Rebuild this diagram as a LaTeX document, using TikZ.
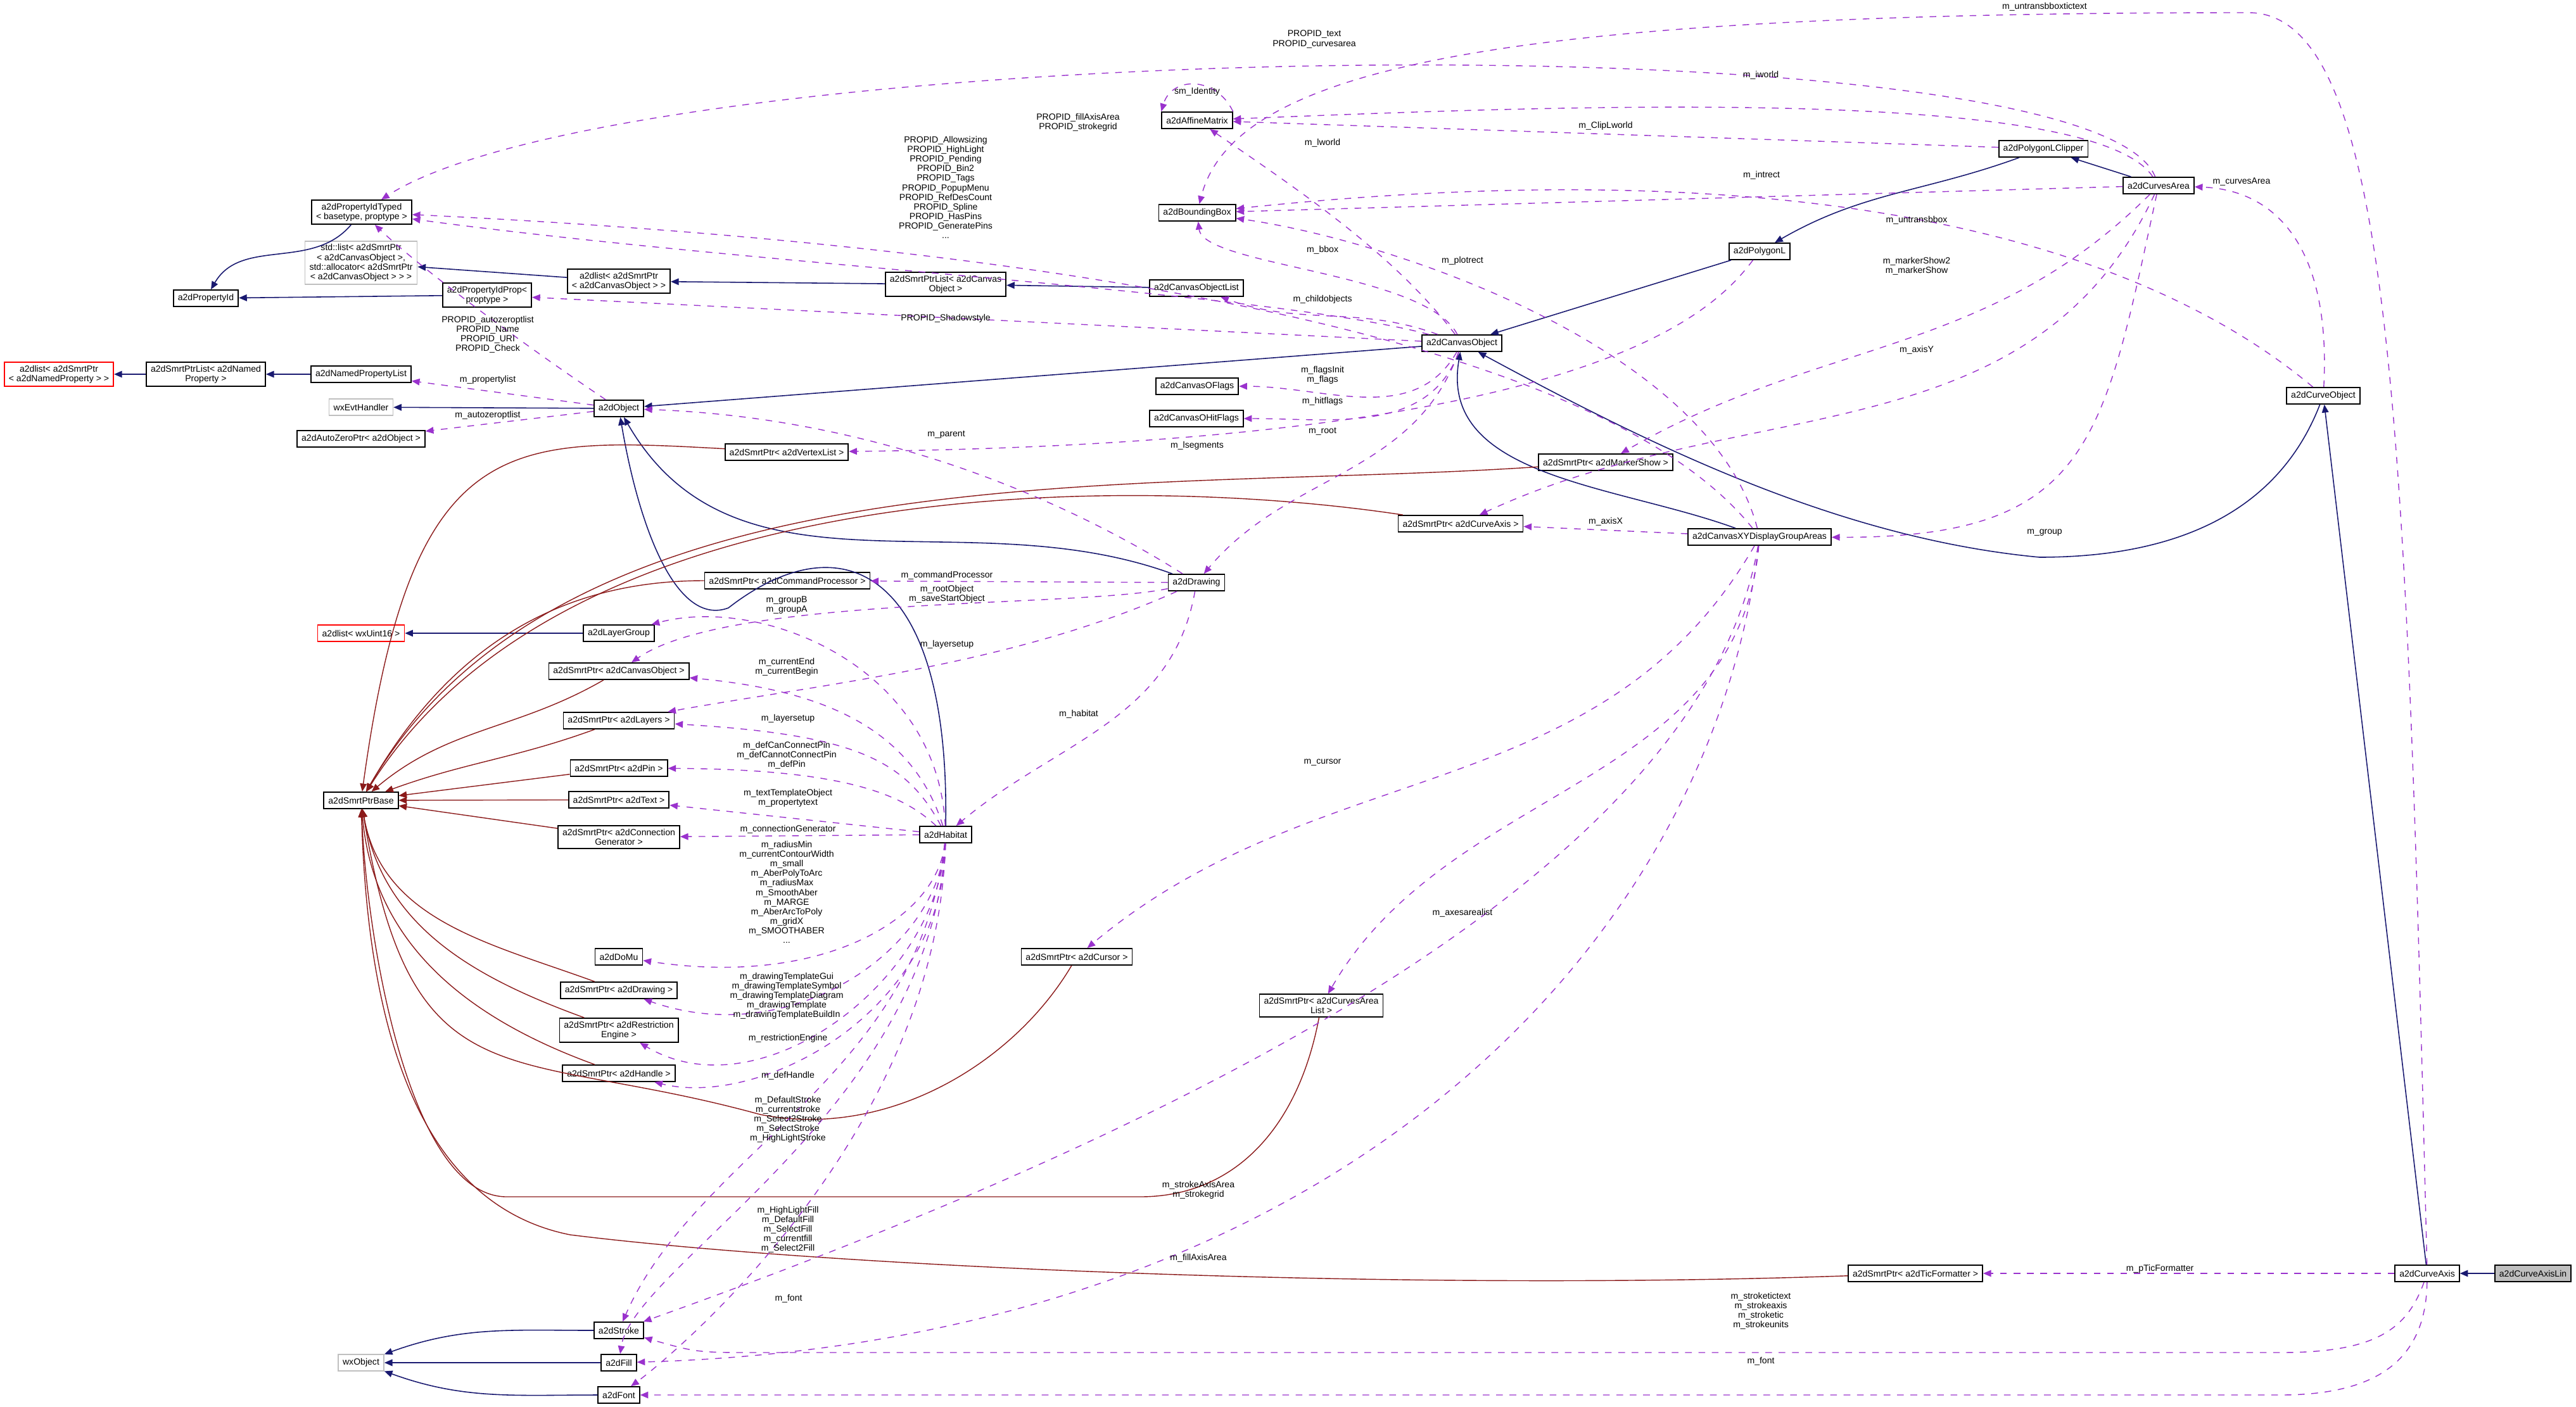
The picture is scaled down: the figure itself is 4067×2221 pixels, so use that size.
\documentclass[tikz,border=0pt]{standalone}
\usepackage{fontspec}
\setmainfont{Liberation Sans}
\usetikzlibrary{arrows.meta}
\definecolor{inhcol}{RGB}{25,25,112}
\definecolor{tplcol}{RGB}{139,26,26}
\definecolor{usecol}{RGB}{154,50,205}
\begin{document}
\begin{tikzpicture}[x=0.01cm, y=-0.01cm, align=center,
    font=\fontsize{4}{4.3}\selectfont,
    cls/.style={draw=black, line width=0.5pt, fill=white, inner xsep=2pt, inner ysep=1.4pt, minimum height=7.4pt},
    ext/.style={cls, draw=black!25},
    tpl/.style={cls, draw=red},
    lbl/.style={inner sep=0.5pt},
    inh/.style={draw=inhcol, line width=0.45pt, -{Triangle[length=3.6pt,width=3pt]}},
    tmp/.style={draw=tplcol, line width=0.4pt, -{Triangle[length=3.6pt,width=3pt]}},
    use/.style={draw=usecol, line width=0.4pt, dashed, -{Triangle[length=3.6pt,width=3pt]}}]
    \useasboundingbox (0,0) rectangle (4067,2221);

    % left column
    \node(typed)  [cls] at (571,335)  {a2dPropertyIdTyped\\< basetype, proptype >};
    \node(stdl)   [ext] at (570,415)  {std::list< a2dSmrtPtr\\< a2dCanvasObject >,\\ std::allocator< a2dSmrtPtr\\< a2dCanvasObject > > >};
    \node(pid)    [cls] at (325,471)  {a2dPropertyId};
    \node(pprop)  [cls] at (769,466)  {a2dPropertyIdProp<\\ proptype >};
    \node(alist)  [cls] at (977,444)  {a2dlist< a2dSmrtPtr\\< a2dCanvasObject > >};
    \node(splist) [cls] at (1493,449) {a2dSmrtPtrList< a2dCanvas\\ Object >};
    \node(nlist)  [tpl] at (93,591)   {a2dlist< a2dSmrtPtr\\< a2dNamedProperty > >};
    \node(snlist) [cls] at (325,591)  {a2dSmrtPtrList< a2dNamed\\ Property >};
    \node(nplist) [cls] at (570,591)  {a2dNamedPropertyList};
    \node(evt)    [ext] at (570,643)  {wxEvtHandler};
    \node(obj)    [cls] at (977,645)  {a2dObject};
    \node(azp)    [cls] at (570,693)  {a2dAutoZeroPtr< a2dObject >};
    \node(vtx)    [cls] at (1242,714) {a2dSmrtPtr< a2dVertexList >};
    \node(cmd)    [cls] at (1243,917) {a2dSmrtPtr< a2dCommandProcessor >};
    \node(ulist)  [tpl] at (570,1000) {a2dlist< wxUint16 >};
    \node(lgrp)   [cls] at (977,1000) {a2dLayerGroup};
    \node(pco)    [cls] at (977,1060) {a2dSmrtPtr< a2dCanvasObject >};
    \node(lay)    [cls] at (977,1138) {a2dSmrtPtr< a2dLayers >};
    \node(pin)    [cls] at (977,1213) {a2dSmrtPtr< a2dPin >};
    \node(base)   [cls] at (570,1264) {a2dSmrtPtrBase};
    \node(txt)    [cls] at (977,1263) {a2dSmrtPtr< a2dText >};
    \node(con)    [cls] at (977,1322) {a2dSmrtPtr< a2dConnection\\ Generator >};
    \node(domu)   [cls] at (977,1511) {a2dDoMu};
    \node(pdrw)   [cls] at (977,1564) {a2dSmrtPtr< a2dDrawing >};
    \node(res)    [cls] at (977,1627) {a2dSmrtPtr< a2dRestriction\\ Engine >};
    \node(hdl)    [cls] at (977,1695) {a2dSmrtPtr< a2dHandle >};
    \node(strk)   [cls] at (977,2101) {a2dStroke};
    \node(wxo)    [ext] at (570,2152) {wxObject};
    \node(fill)   [cls] at (977,2152) {a2dFill};
    \node(font)   [cls] at (977,2203) {a2dFont};
    % middle
    \node(aff)    [cls] at (1890,190) {a2dAffineMatrix};
    \node(bbox)   [cls] at (1890,336) {a2dBoundingBox};
    \node(colist) [cls] at (1889,455) {a2dCanvasObjectList};
    \node(oflags) [cls] at (1890,610) {a2dCanvasOFlags};
    \node(hflags) [cls] at (1889,661) {a2dCanvasOHitFlags};
    \node(drw)    [cls] at (1889,920) {a2dDrawing};
    \node(hab)    [cls] at (1493,1318) {a2dHabitat};
    \node(cur)    [cls] at (1700,1511) {a2dSmrtPtr< a2dCursor >};
    \node(calist) [cls] at (2086,1588) {a2dSmrtPtr< a2dCurvesArea\\ List >};
    % right
    \node(cobj)   [cls] at (2308,542) {a2dCanvasObject};
    \node(mrk)    [cls] at (2535,730) {a2dSmrtPtr< a2dMarkerShow >};
    \node(pax)    [cls] at (2306,827) {a2dSmrtPtr< a2dCurveAxis >};
    \node(xy)     [cls] at (2778,848) {a2dCanvasXYDisplayGroupAreas};
    \node(poly)   [cls] at (2778,397) {a2dPolygonL};
    \node(clip)   [cls] at (3226,235) {a2dPolygonLClipper};
    \node(area)   [cls] at (3408,293) {a2dCurvesArea};
    \node(cobj2)  [cls] at (3668,625) {a2dCurveObject};
    \node(tic)    [cls] at (3024,2011) {a2dSmrtPtr< a2dTicFormatter >};
    \node(axis)   [cls] at (3832,2011) {a2dCurveAxis};
    \node(lin)    [cls, fill=black!25] at (3999,2011) {a2dCurveAxisLin};

    % inheritance
    \draw [inh] (typed) to [out=-130,in=60] (pid);
    \draw [inh] (pprop) -- (pid);
    \draw [inh] (alist) -- (stdl);
    \draw [inh] (splist) -- (alist);
    \draw [inh] (colist) -- (splist);
    \draw [inh] (snlist) -- (nlist);
    \draw [inh] (nplist) -- (snlist);
    \draw [inh] (obj) -- (evt);
    \draw [inh] (cobj) -- (obj);
    \draw [inh] (drw) to [out=160,in=-60] (obj);
    \draw [inh] (hab.north) .. controls (1500,900) and (1330,820) .. (1150,960) .. controls (1070,990) and (1010,840) .. (obj);
    \draw [inh] (lgrp) -- (ulist);
    \draw [inh] (poly) -- (cobj);
    \draw [inh] (clip) to [out=200,in=30] (poly);
    \draw [inh] (area) -- (clip);
    \draw [inh] (xy) to [out=160,in=-100] (cobj);
    \draw [inh] (cobj2) .. controls (3600,800) and (3450,880) .. (3220,880) .. controls (2900,850) and (2600,700) .. (cobj);
    \draw [inh] (axis) -- (cobj2);
    \draw [inh] (lin) -- (axis);
    \draw [inh] (strk) to [out=180,in=20] (wxo);
    \draw [inh] (fill) -- (wxo);
    \draw [inh] (font) to [out=180,in=-20] (wxo);

    % template instances
    \draw [tmp] (vtx) .. controls (800,690) and (650,680) .. (base);
    \draw [tmp] (mrk) .. controls (1800,780) and (900,700) .. (base);
    \draw [tmp] (pax) .. controls (1800,750) and (900,740) .. (base);
    \draw [tmp] (cmd) to [out=180,in=60] (base);
    \draw [tmp] (pco) to [out=-150,in=40] (base);
    \draw [tmp] (lay) to [out=-160,in=20] (base);
    \draw [tmp] (pin) -- (base);
    \draw [tmp] (txt) -- (base);
    \draw [tmp] (con) -- (base);
    \draw [tmp] (pdrw) to [out=160,in=-80] (base);
    \draw [tmp] (res) to [out=160,in=-80] (base);
    \draw [tmp] (hdl) to [out=160,in=-85] (base);
    \draw [tmp] (cur) .. controls (1600,1680) and (1400,1800) .. (1200,1760) .. controls (800,1650) and (650,1750) .. (base);
    \draw [tmp] (calist) .. controls (2050,1780) and (1950,1890) .. (1800,1890) -- (800,1890) .. controls (650,1890) and (580,1500) .. (base);
    \draw [tmp] (tic) .. controls (2200,2040) and (1300,2000) .. (900,1950) .. controls (650,1900) and (580,1600) .. (base);

    % usage
    \draw [use] (obj) .. controls (820,540) and (660,420) .. (typed);
    \draw [use] (obj) -- (nplist);
    \draw [use] (obj) -- (azp);
    \draw [use] (cobj) .. controls (2000,460) and (1200,420) .. (typed);
    \draw [use] (cobj) -- (pprop);
    \draw [use] (cobj) .. controls (2250,430) and (1900,420) .. (bbox);
    \draw [use] (cobj) to [out=160,in=-20] (colist);
    \draw [use] (cobj) to [out=-120,in=0] (oflags);
    \draw [use] (cobj) to [out=-110,in=0] (hflags);
    \draw [use] (cobj) to [out=-110,in=50] (drw);
    \draw [use] (cobj) .. controls (2200,400) and (2050,300) .. (aff);
    \draw [use] (poly) .. controls (2700,500) and (2500,700) .. (vtx);
    \draw [use] (drw) .. controls (1700,800) and (1400,660) .. (obj);
    \draw [use] (drw) -- (cmd);
    \draw [use] (drw) .. controls (1700,960) and (1150,940) .. (pco);
    \draw [use] (drw) .. controls (1600,1050) and (1300,1080) .. (lay);
    \draw [use] (drw) to [out=-100,in=40] (hab);
    \draw [use] (hab) .. controls (1480,1050) and (1200,940) .. (lgrp);
    \draw [use] (hab) .. controls (1440,1150) and (1300,1090) .. (pco);
    \draw [use] (hab) .. controls (1430,1200) and (1350,1160) .. (lay);
    \draw [use] (hab) .. controls (1430,1260) and (1350,1215) .. (pin);
    \draw [use] (hab) -- (txt);
    \draw [use] (hab) -- (con);
    \draw [use] (hab) .. controls (1480,1450) and (1300,1560) .. (domu);
    \draw [use] (hab) .. controls (1480,1500) and (1250,1660) .. (pdrw);
    \draw [use] (hab) .. controls (1480,1550) and (1200,1760) .. (res);
    \draw [use] (hab) .. controls (1490,1600) and (1200,1750) .. (hdl);
    \draw [use] (hab) .. controls (1450,1700) and (1100,1820) .. (strk);
    \draw [use] (hab) .. controls (1470,1750) and (1000,2000) .. (fill);
    \draw [use] (hab) .. controls (1480,1800) and (1050,2150) .. (font);
    \draw [use] (xy) .. controls (2500,500) and (1500,380) .. (typed);
    \draw [use] (xy) .. controls (2700,550) and (2200,380) .. (bbox);
    \draw [use] (xy) -- (pax);
    \draw [use] (xy) to [out=-120,in=40] (cur);
    \draw [use] (xy) to [out=-95,in=60] (calist);
    \draw [use] (xy) .. controls (2700,1300) and (2100,1700) .. (strk);
    \draw [use] (xy) .. controls (2700,1500) and (2100,2120) .. (fill);
    \draw [use] (aff.north east) .. controls (1920,120) and (1850,120) .. (aff.north west);
    \draw [use] (area) .. controls (3300,20) and (1000,60) .. (typed);
    \draw [use] (area) .. controls (3300,130) and (2400,170) .. (aff);
    \draw [use] (clip) -- (aff);
    \draw [use] (area) -- (bbox);
    \draw [use] (cobj2) .. controls (3400,400) and (2900,230) .. (bbox);
    \draw [use] (area) to [out=-135,in=30] (mrk);
    \draw [use] (area) to [out=-115,in=25] (pax);
    \draw [use] (area) .. controls (3320,700) and (3300,850) .. (xy);
    \draw [use] (cobj2) .. controls (3680,400) and (3600,300) .. (area);
    \draw [use] (axis) -- (tic);
    \draw [use] (axis) .. controls (3800,2100) and (3750,2136) .. (3600,2136) -- (1200,2136) .. controls (1100,2136) .. (strk);
    \draw [use] (axis) .. controls (3830,2150) and (3750,2203) .. (3600,2203) -- (font);
    \draw [use] (axis) .. controls (3800,700) and (3780,20) .. (3550,20) .. controls (2400,20) and (1950,100) .. (bbox);

    % labels
    \node(l1)  [lbl] at (770,528)   {PROPID\_autozeroptlist\\PROPID\_Name\\PROPID\_URI\\PROPID\_Check};
    \node(l2)  [lbl] at (770,600)   {m\_propertylist};
    \node(l3)  [lbl] at (770,656)   {m\_autozeroptlist};
    \node(l4)  [lbl] at (1494,686)  {m\_parent};
    \node(l5)  [lbl] at (1493,296)  {PROPID\_Allowsizing\\PROPID\_HighLight\\PROPID\_Pending\\PROPID\_Bin2\\PROPID\_Tags\\PROPID\_PopupMenu\\PROPID\_RefDesCount\\PROPID\_Spline\\PROPID\_HasPins\\PROPID\_GeneratePins\\...};
    \node(l6)  [lbl] at (1702,193)  {PROPID\_fillAxisArea\\PROPID\_strokegrid};
    \node(l7)  [lbl] at (1890,145)  {sm\_Identity};
    \node(l8)  [lbl] at (2088,226)  {m\_lworld};
    \node(l9)  [lbl] at (2535,199)  {m\_ClipLworld};
    \node(l10) [lbl] at (2780,119)  {m\_iworld};
    \node(l11) [lbl] at (2781,277)  {m\_intrect};
    \node(l12) [lbl] at (3026,348)  {m\_untransbbox};
    \node(l13) [lbl] at (3026,420)  {m\_markerShow2\\m\_markerShow};
    \node(l14) [lbl] at (3026,553)  {m\_axisY};
    \node(l15) [lbl] at (3539,287)  {m\_curvesArea};
    \node(l16) [lbl] at (3228,841)  {m\_group};
    \node(l17) [lbl] at (3228,11)   {m\_untransbboxtictext};
    \node(l18) [lbl] at (2075,62)   {PROPID\_text\\PROPID\_curvesarea};
    \node(l19) [lbl] at (2088,395)  {m\_bbox};
    \node(l20) [lbl] at (2309,412)  {m\_plotrect};
    \node(l21) [lbl] at (2088,473)  {m\_childobjects};
    \node(l22) [lbl] at (1493,503)  {PROPID\_Shadowstyle};
    \node(l23) [lbl] at (2088,592)  {m\_flagsInit\\m\_flags};
    \node(l24) [lbl] at (2088,634)  {m\_hitflags};
    \node(l25) [lbl] at (2088,681)  {m\_root};
    \node(l26) [lbl] at (1890,704)  {m\_lsegments};
    \node(l27) [lbl] at (2535,824)  {m\_axisX};
    \node(l28) [lbl] at (1495,909)  {m\_commandProcessor};
    \node(l29) [lbl] at (1495,938)  {m\_rootObject\\m\_saveStartObject};
    \node(l30) [lbl] at (1242,956)  {m\_groupB\\m\_groupA};
    \node(l31) [lbl] at (1495,1018) {m\_layersetup};
    \node(l32) [lbl] at (1242,1053) {m\_currentEnd\\m\_currentBegin};
    \node(l33) [lbl] at (1703,1128) {m\_habitat};
    \node(l34) [lbl] at (1244,1135) {m\_layersetup};
    \node(l35) [lbl] at (1242,1193) {m\_defCanConnectPin\\m\_defCannotConnectPin\\m\_defPin};
    \node(l36) [lbl] at (1244,1260) {m\_textTemplateObject\\m\_propertytext};
    \node(l37) [lbl] at (1244,1310) {m\_connectionGenerator};
    \node(l38) [lbl] at (1242,1409) {m\_radiusMin\\m\_currentContourWidth\\m\_small\\m\_AberPolyToArc\\m\_radiusMax\\m\_SmoothAber\\m\_MARGE\\m\_AberArcToPoly\\m\_gridX\\m\_SMOOTHABER\\...};
    \node(l39) [lbl] at (1242,1573) {m\_drawingTemplateGui\\m\_drawingTemplateSymbol\\m\_drawingTemplateDiagram\\m\_drawingTemplate\\m\_drawingTemplateBuildIn};
    \node(l40) [lbl] at (1244,1640) {m\_restrictionEngine};
    \node(l41) [lbl] at (1244,1699) {m\_defHandle};
    \node(l42) [lbl] at (2088,1204) {m\_cursor};
    \node(l43) [lbl] at (2309,1442) {m\_axesarealist};
    \node(l44) [lbl] at (1244,1768) {m\_DefaultStroke\\m\_currentstroke\\m\_Select2Stroke\\m\_SelectStroke\\m\_HighLightStroke};
    \node(l45) [lbl] at (1244,1942) {m\_HighLightFill\\m\_DefaultFill\\m\_SelectFill\\m\_currentfill\\m\_Select2Fill};
    \node(l46) [lbl] at (1245,2051) {m\_font};
    \node(l47) [lbl] at (1892,1879) {m\_strokeAxisArea\\m\_strokegrid};
    \node(l48) [lbl] at (1892,1987) {m\_fillAxisArea};
    \node(l49) [lbl] at (3410,2004) {m\_pTicFormatter};
    \node(l50) [lbl] at (2780,2070) {m\_stroketictext\\m\_strokeaxis\\m\_stroketic\\m\_strokeunits};
    \node(l51) [lbl] at (2780,2150) {m\_font};
\end{tikzpicture}
\end{document}
